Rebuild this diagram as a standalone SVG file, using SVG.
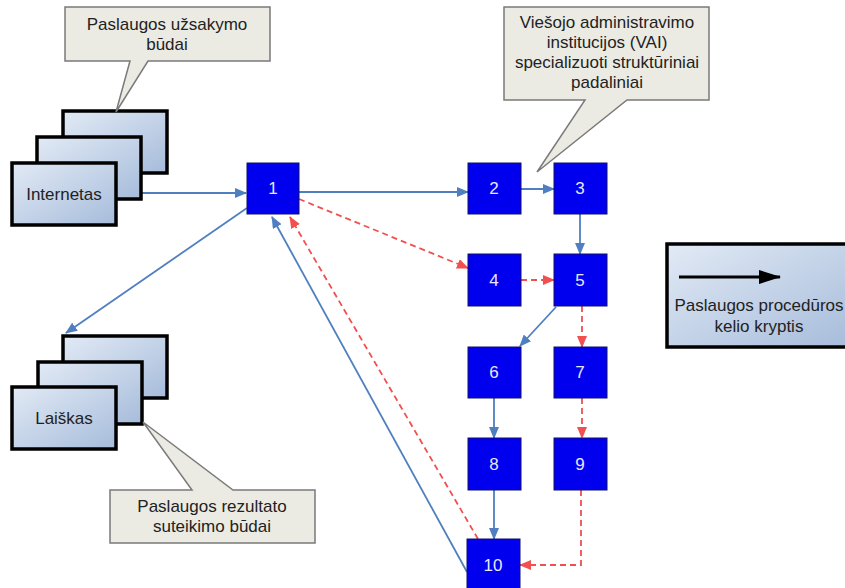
<svg xmlns="http://www.w3.org/2000/svg" width="845" height="588" viewBox="0 0 845 588">
<defs>
<linearGradient id="boxg" x1="0" y1="0" x2="1" y2="1">
<stop offset="0" stop-color="#e2eaf5"/>
<stop offset="1" stop-color="#a6bcdb"/>
</linearGradient>
<marker id="ab" markerUnits="userSpaceOnUse" markerWidth="12" markerHeight="10" refX="11" refY="5" orient="auto">
<path d="M0,0 L12,5 L0,10 z" fill="#4f7fc0"/>
</marker>
<marker id="ar" markerUnits="userSpaceOnUse" markerWidth="12" markerHeight="10" refX="11" refY="5" orient="auto">
<path d="M0,0 L12,5 L0,10 z" fill="#f05050"/>
</marker>
<marker id="ak" markerUnits="userSpaceOnUse" markerWidth="22" markerHeight="14" refX="21" refY="7" orient="auto">
<path d="M0,0 L22,7 L0,14 z" fill="#000"/>
</marker>
</defs>
<style>
.stack{fill:url(#boxg);stroke:#000;stroke-width:3.5}
.node{fill:#0000ee;stroke:#10106a;stroke-width:1}
.call{fill:#ebebe3;stroke:#7a7a7a;stroke-width:1.5}
.t{font-family:"Liberation Sans",Arial,sans-serif;font-size:17px;fill:#222;text-anchor:middle}
.n{font-family:"Liberation Sans",Arial,sans-serif;font-size:17px;fill:#e8e8ff;text-anchor:middle}
.b{stroke:#4f7fc0;stroke-width:1.8;fill:none;marker-end:url(#ab)}
.r{stroke:#f05050;stroke-width:1.8;fill:none;stroke-dasharray:6 4;marker-end:url(#ar)}
</style>
<rect width="845" height="588" fill="#fff"/>

<g id="connectors">
<line class="b" x1="141" y1="193" x2="246" y2="193"/>
<line class="b" x1="299" y1="192" x2="468" y2="192"/>
<line class="b" x1="521" y1="189" x2="554" y2="189"/>
<line class="b" x1="580" y1="214" x2="580" y2="254"/>
<line class="b" x1="247" y1="208" x2="66" y2="333"/>
<line class="b" x1="467" y1="572" x2="272" y2="217"/>
<line class="r" x1="299" y1="199" x2="468" y2="268"/>
<line class="r" x1="478" y1="539" x2="290" y2="217"/>
<line class="r" x1="521" y1="280" x2="554" y2="280"/>
<line class="b" x1="556" y1="307" x2="520" y2="346"/>
<line class="r" x1="582" y1="306" x2="582" y2="347"/>
<line class="b" x1="494" y1="398" x2="494" y2="438"/>
<line class="r" x1="582" y1="398" x2="582" y2="438"/>
<line class="b" x1="494" y1="490" x2="494" y2="539"/>
<polyline class="r" points="581,490 581,565 520,565"/>
</g>

<g id="internetas">
<rect class="stack" x="63" y="111" width="104" height="62"/>
<rect class="stack" x="37" y="137" width="104" height="62"/>
<rect class="stack" x="12" y="163" width="104" height="62"/>
<text class="t" x="64" y="200">Internetas</text>
</g>

<g id="laiskas">
<rect class="stack" x="63" y="336" width="104" height="62"/>
<rect class="stack" x="38" y="362" width="104" height="62"/>
<rect class="stack" x="12" y="387" width="104" height="62"/>
<text class="t" x="64" y="424">Laiškas</text>
</g>

<g id="callout-uzsakymo">
<path class="call" d="M65,7 H270 V61 H148 L116,112 L130,61 H65 Z"/>
<text class="t" x="167" y="30">Paslaugos užsakymo</text>
<text class="t" x="167" y="50">būdai</text>
</g>

<g id="callout-rezultato">
<path class="call" d="M110,490 H192 L143,422 L233,490 H315 V543 H110 Z"/>
<text class="t" x="212" y="512">Paslaugos rezultato</text>
<text class="t" x="212" y="532">suteikimo būdai</text>
</g>

<g id="callout-vai">
<path class="call" d="M504,7 H709 V100 H627 L537,172 L585,100 H504 Z"/>
<text class="t" x="607" y="28">Viešojo administravimo</text>
<text class="t" x="607" y="48">institucijos (VAI)</text>
<text class="t" x="607" y="68">specializuoti struktūriniai</text>
<text class="t" x="607" y="88">padaliniai</text>
</g>

<g id="legend">
<rect class="stack" x="667" y="244" width="186" height="103"/>
<line x1="679" y1="277" x2="780" y2="277" stroke="#000" stroke-width="3" marker-end="url(#ak)"/>
<text class="t" x="759" y="311">Paslaugos procedūros</text>
<text class="t" x="759" y="332">kelio kryptis</text>
</g>

<g id="n1"><rect class="node" x="247" y="163" width="52" height="51"/><text class="n" x="273" y="194">1</text></g>
<g id="n2"><rect class="node" x="468" y="163" width="53" height="51"/><text class="n" x="494" y="194">2</text></g>
<g id="n3"><rect class="node" x="554" y="163" width="53" height="51"/><text class="n" x="580" y="194">3</text></g>
<g id="n4"><rect class="node" x="468" y="254" width="53" height="52"/><text class="n" x="494" y="286">4</text></g>
<g id="n5"><rect class="node" x="554" y="254" width="53" height="52"/><text class="n" x="580" y="286">5</text></g>
<g id="n6"><rect class="node" x="468" y="347" width="53" height="51"/><text class="n" x="494" y="378">6</text></g>
<g id="n7"><rect class="node" x="554" y="347" width="53" height="51"/><text class="n" x="580" y="378">7</text></g>
<g id="n8"><rect class="node" x="468" y="438" width="53" height="52"/><text class="n" x="494" y="470">8</text></g>
<g id="n9"><rect class="node" x="554" y="438" width="53" height="52"/><text class="n" x="580" y="470">9</text></g>
<g id="n10"><rect class="node" x="467" y="539" width="53" height="52"/><text class="n" x="493" y="571">10</text></g>
</svg>
